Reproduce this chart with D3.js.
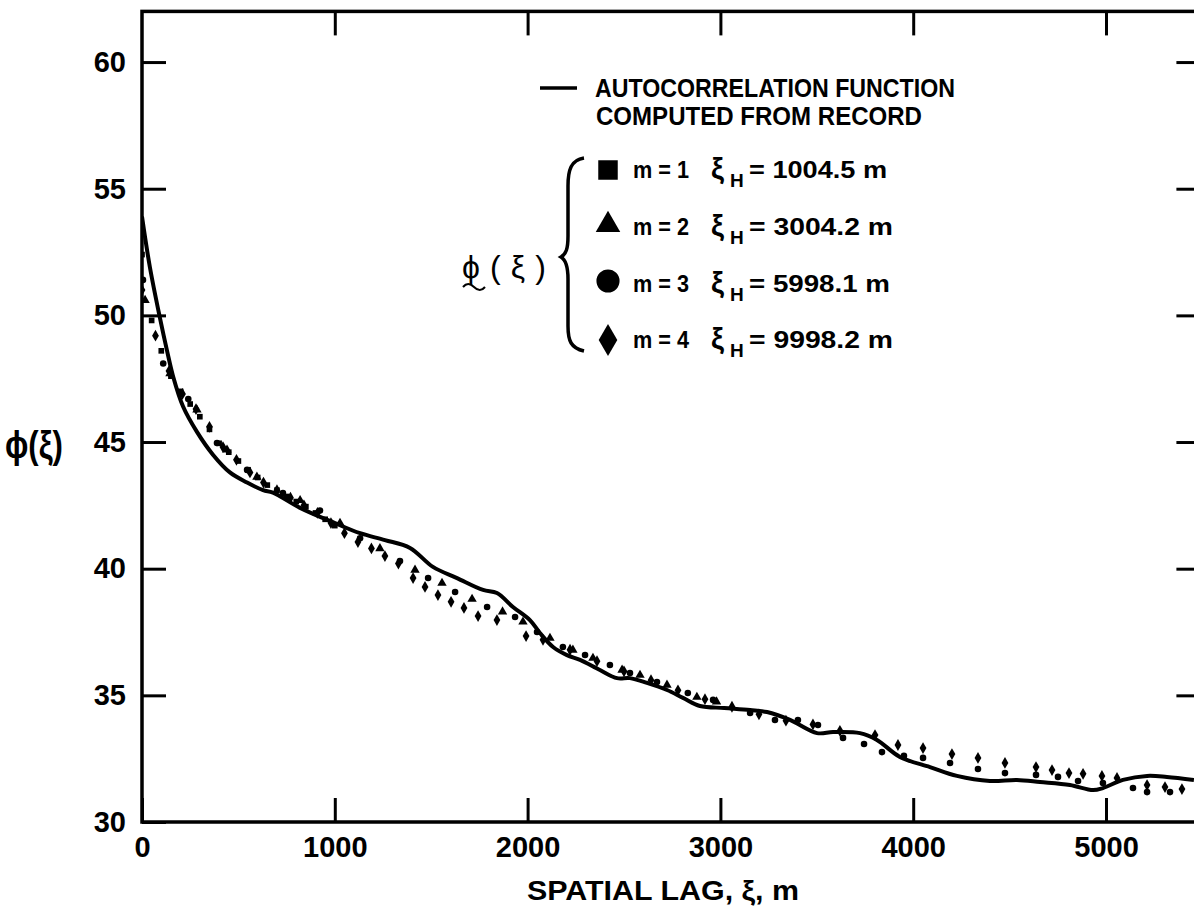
<!DOCTYPE html>
<html><head><meta charset="utf-8">
<script src="https://cdn.jsdelivr.net/npm/d3@7"></script>
<style>
body{margin:0;background:#fff}
svg{display:block}
text{font-family:"Liberation Sans",Arial,sans-serif;font-weight:bold;fill:#000}
</style>
</head><body><svg id="c" width="1194" height="907"></svg>
<script>
// ---------- data ----------
const xTicks = [0, 1000, 2000, 3000, 4000, 5000];
const yTicks = [30, 35, 40, 45, 50, 55, 60];

// autocorrelation function computed from record (solid line)
const lineLag = [0, 41, 93, 130, 161, 213, 285, 368, 456, 545, 628, 679, 820, 1001, 1131, 1260, 1390, 1509, 1634, 1769, 1841, 1924, 2012, 2064, 2132, 2204, 2272, 2375, 2464, 2531, 2619, 2723, 2806, 2894, 3020, 3154, 3242, 3361, 3501, 3584, 3724, 3812, 3931, 4087, 4227, 4398, 4538, 4658, 4813, 4933, 4984, 5088, 5213, 5316, 5456];
const lineVal = [53.9, 51.9, 49.9, 48.6, 47.6, 46.4, 45.4, 44.5, 43.8, 43.4, 43.1, 43.0, 42.4, 41.8, 41.4, 41.13, 40.82, 40.07, 39.63, 39.16, 39.04, 38.49, 37.97, 37.46, 36.91, 36.59, 36.40, 36.00, 35.68, 35.68, 35.49, 35.21, 34.90, 34.58, 34.5, 34.42, 34.34, 34.03, 33.51, 33.55, 33.51, 33.24, 32.57, 32.17, 31.82, 31.62, 31.66, 31.58, 31.46, 31.26, 31.34, 31.66, 31.82, 31.78, 31.66];

// m = 1 (squares)
const sqLag = [0, 50, 100, 150, 200, 250, 300, 350, 400, 450, 500, 550, 600, 650, 700, 750, 800, 850, 900, 950, 1000];
const sqVal = [52.4, 49.8, 48.6, 47.6, 47.0, 46.5, 46.0, 45.5, 44.95, 44.6, 44.25, 43.9, 43.6, 43.3, 43.1, 42.85, 42.65, 42.45, 42.2, 41.95, 41.7];

// m = 2 (triangles)
const triLag = [16, 145, 285, 441, 596, 820, 1027, 1234, 1416, 1556, 1712, 1870, 1976, 2116, 2235, 2339, 2490, 2583, 2723, 2878, 2980];
const triVal = [50.6, 47.7, 46.27, 44.69, 43.62, 42.7, 41.8, 40.8, 39.95, 39.43, 38.8, 38.3, 37.9, 37.26, 36.79, 36.47, 36.0, 35.8, 35.41, 34.93, 34.75];

// m = 3 (circles)
const cirLag = [5, 110, 240, 389, 545, 731, 923, 1131, 1338, 1484, 1624, 1790, 1935, 2049, 2183, 2298, 2427, 2531, 2671, 2831, 2962, 3154, 3283, 3402, 3506, 3636, 3745, 3838, 3952, 4051, 4191, 4336, 4476, 4637, 4751, 4855, 4984, 5140, 5213, 5332];
const cirVal = [51.4, 48.1, 46.7, 44.96, 43.9, 42.99, 42.3, 41.2, 40.3, 39.63, 39.08, 38.49, 38.09, 37.5, 36.91, 36.59, 36.2, 35.88, 35.53, 35.09, 34.82, 34.30, 34.03, 34.03, 33.83, 33.32, 33.08, 32.76, 32.61, 32.53, 32.33, 32.09, 31.93, 31.86, 31.78, 31.62, 31.54, 31.34, 31.18, 31.18];

// m = 4 (diamonds)
const diaLag = [0, 70, 140, 210, 280, 350, 420, 490, 560, 630, 700, 770, 840, 910, 980, 1050, 1120, 1190, 1260, 1330, 1406, 1468, 1535, 1603, 1670, 1743, 1841, 1992, 2080, 2220, 2360, 2500, 2640, 2780, 2920, 3060, 3200, 3340, 3480, 3620, 3802, 3921, 4051, 4201, 4336, 4476, 4637, 4720, 4808, 4881, 4979, 5057, 5213, 5306, 5394];
const diaVal = [51.0, 49.2, 47.8, 46.9, 46.3, 45.6, 44.8, 44.3, 43.8, 43.4, 43.1, 42.8, 42.5, 42.2, 41.8, 41.4, 41.05, 40.8, 40.5, 40.2, 39.63, 39.28, 38.96, 38.69, 38.45, 38.13, 37.97, 37.34, 37.19, 36.8, 36.35, 35.95, 35.6, 35.2, 34.85, 34.55, 34.25, 34.0, 33.85, 33.6, 33.43, 33.04, 32.92, 32.68, 32.53, 32.33, 32.17, 32.05, 31.93, 31.90, 31.82, 31.74, 31.46, 31.38, 31.30];

const legendM = ["m = 1", "m = 2", "m = 3", "m = 4"];
const legendXiH = ["= 1004.5 m", "= 3004.2 m", "= 5998.1 m", "= 9998.2 m"];
const legendTitle = ["AUTOCORRELATION FUNCTION", "COMPUTED FROM RECORD"];
const xTitle = "SPATIAL LAG, ξ, m";
const yTitle = "ϕ(ξ)";

// ---------- chart ----------
const svg = d3.select("#c");
const x = d3.scaleLinear().domain([0, 5500]).range([142, 1202.4]);
const y = d3.scaleLinear().domain([30, 62]).range([822, 11.4]);
const X0 = x.range()[0], X1 = x.range()[1], Y0 = y.range()[0], Y1 = y.range()[1];

svg.append("defs").append("clipPath").attr("id", "clip")
  .append("rect").attr("x", X0).attr("y", Y1).attr("width", X1 - X0).attr("height", Y0 - Y1);

// frame
svg.append("rect").attr("x", X0).attr("y", Y1).attr("width", X1 - X0).attr("height", Y0 - Y1)
  .attr("fill", "none").attr("stroke", "#000").attr("stroke-width", 3.5);

function styleAxis(g) {
  g.select(".domain").remove();
  g.selectAll(".tick line").attr("stroke", "#000").attr("stroke-width", 3);
  g.selectAll("text").attr("fill", "#000").style("font-size", "29px")
    .style("font-family", "'Liberation Sans',Arial,sans-serif").style("font-weight", "bold");
}

svg.append("g").attr("transform", `translate(0,${Y0})`)
  .call(d3.axisBottom(x).tickValues(xTicks).tickSize(-24).tickPadding(14).tickFormat(d3.format("d")))
  .call(styleAxis);
svg.append("g").attr("transform", `translate(0,${Y1})`)
  .call(d3.axisTop(x).tickValues(xTicks.slice(1)).tickSize(-24).tickFormat(""))
  .call(styleAxis);
svg.append("g").attr("transform", `translate(${X0},0)`)
  .call(d3.axisLeft(y).tickValues(yTicks).tickSize(-24).tickPadding(16))
  .call(styleAxis);
svg.append("g").attr("transform", `translate(${X1},0)`)
  .call(d3.axisRight(y).tickValues(yTicks.slice(1)).tickSize(-26).tickFormat(""))
  .call(styleAxis);

// plotted data
const plot = svg.append("g").attr("clip-path", "url(#clip)");
const lineData = lineLag.map((d, i) => [d, lineVal[i]]);
plot.append("path").datum(lineData)
  .attr("d", d3.line().x(d => x(d[0])).y(d => y(d[1])).curve(d3.curveCatmullRom.alpha(0.5)))
  .attr("fill", "none").attr("stroke", "#000").attr("stroke-width", 4).attr("stroke-linejoin", "round");

const series = [
  {lag: sqLag, val: sqVal, type: d3.symbolSquare, size: 32},
  {lag: triLag, val: triVal, type: d3.symbolTriangle, size: 38},
  {lag: cirLag, val: cirVal, type: d3.symbolCircle, size: 34},
  {lag: diaLag, val: diaVal, type: d3.symbolDiamond, size: 40}
];
series.forEach(s => {
  plot.append("g").selectAll("path").data(s.lag.map((d, i) => [d, s.val[i]])).join("path")
    .attr("transform", d => `translate(${x(d[0])},${y(d[1])})`)
    .attr("d", d3.symbol().type(s.type).size(s.size)).attr("fill", "#000");
});

// axis titles
svg.append("text").attr("x", 527).attr("y", 900).style("font-size", "27px")
  .attr("textLength", 272).attr("lengthAdjust", "spacingAndGlyphs").text(xTitle);
svg.append("text").attr("x", 5).attr("y", 458).style("font-size", "38px")
  .attr("textLength", 58).attr("lengthAdjust", "spacingAndGlyphs").text(yTitle);

// legend
const lg = svg.append("g");
lg.append("line").attr("x1", 540).attr("x2", 577).attr("y1", 88).attr("y2", 88)
  .attr("stroke", "#000").attr("stroke-width", 3.5);
lg.append("text").attr("x", 595).attr("y", 97).style("font-size", "25px")
  .attr("textLength", 360).attr("lengthAdjust", "spacingAndGlyphs").text(legendTitle[0]);
lg.append("text").attr("x", 596).attr("y", 125).style("font-size", "25px")
  .attr("textLength", 326).attr("lengthAdjust", "spacingAndGlyphs").text(legendTitle[1]);

const rowY = [178, 235, 292, 348];
const legSym = [
  {type: d3.symbolSquare, size: 380, dy: -8},
  {type: d3.symbolTriangle, size: 260, dy: -10},
  {type: d3.symbolCircle, size: 420, dy: -11},
  {type: d3.symbolDiamond, size: 300, dy: -8}
];
const eqW = [139, 145, 142, 145];
rowY.forEach((by, i) => {
  lg.append("path").attr("transform", `translate(608,${by + legSym[i].dy})`)
    .attr("d", d3.symbol().type(legSym[i].type).size(legSym[i].size)).attr("fill", "#000");
  lg.append("text").attr("x", 633).attr("y", by).style("font-size", "23px")
    .attr("textLength", 56).attr("lengthAdjust", "spacingAndGlyphs").text(legendM[i]);
  lg.append("text").attr("x", 711).attr("y", by + 1).style("font-size", "29px").text("ξ");
  lg.append("text").attr("x", 730).attr("y", by + 9).style("font-size", "19px").text("H");
  lg.append("text").attr("x", 749).attr("y", by).style("font-size", "23px")
    .attr("textLength", eqW[i] - 1).attr("lengthAdjust", "spacingAndGlyphs").text(legendXiH[i]);
});

// brace
lg.append("path")
  .attr("d", "M584,158 C571,160 568,170 568,186 L568,236 C568,249 566,254 561,257 C566,260 568,266 568,279 L568,326 C568,341 571,348 584,351")
  .attr("fill", "none").attr("stroke", "#000").attr("stroke-width", 3.5);

// phi(xi) with tilde
lg.append("text").attr("x", 462).attr("y", 278).style("font-size", "32px").style("font-weight", "normal")
  .attr("textLength", 84).attr("lengthAdjust", "spacing").text(yTitle);
lg.append("path").attr("d", "M463,287 q5,-6 11,0 t11,0").attr("fill", "none")
  .attr("stroke", "#000").attr("stroke-width", 2);
</script>
</body></html>
